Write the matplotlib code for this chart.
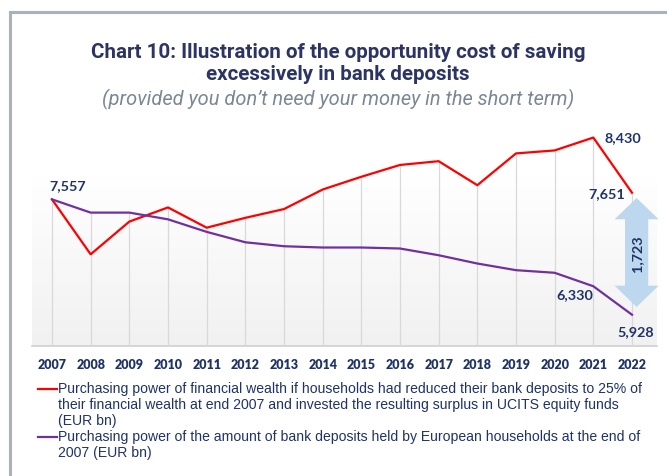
import numpy as np
import matplotlib
matplotlib.use("Agg")
from matplotlib import pyplot as plt
from matplotlib.patches import Polygon
from matplotlib.lines import Line2D

years = list(range(2007, 2023))
equity_path = [7557, 6781, 7243, 7443, 7157, 7296, 7420, 7696, 7876, 8043,
               8096, 7757, 8206, 8248, 8430, 7651]
deposits = [7557, 7370, 7370, 7275, 7098, 6951, 6895, 6877, 6877, 6863,
            6768, 6651, 6557, 6520, 6330, 5928]
year_labels = [str(y) for y in years]
red_label = ("Purchasing power of financial wealth if households had reduced their bank deposits to 25% of\n"
             "their financial wealth at end 2007 and invested the resulting surplus in UCITS equity funds\n"
             "(EUR bn)")
purple_label = ("Purchasing power of the amount of bank deposits held by European households at the end of\n"
                "2007 (EUR bn)")

W, H = 667, 477
navy = "#1f3366"
fig = plt.figure(figsize=(W / 100, H / 100), dpi=100)

def fx(px):
    return px / W

def fy(py):
    return 1 - py / H

# frame border
fig.add_artist(Line2D([fx(10), fx(10)], [fy(13), 0], color="#aab1bc", lw=2.2))
fig.add_artist(Line2D([fx(10), 1], [fy(13), fy(13)], color="#aab1bc", lw=2.2))

fig.text(fx(338), fy(52), "Chart 10: Illustration of the opportunity cost of saving",
         ha="center", va="center", fontsize=14.8, fontweight="bold", color="#2b3463", family="Roboto")
fig.text(fx(338), fy(74), "excessively in bank deposits",
         ha="center", va="center", fontsize=14.8, fontweight="bold", color="#2b3463", family="Roboto")
fig.text(fx(338), fy(99), "(provided you don\u2019t need your money in the short term)",
         ha="center", va="center", fontsize=14.4, style="italic", color="#7b8794", family="Roboto")

ax = fig.add_axes([fx(32), fy(347), fx(657 - 32), (347 - 120) / H])
ax.set_xlim(2006.483, 2022.647)
ax.set_ylim(5486, 8692)
ax.axis("off")

# gradient background
grad = np.linspace(1, 0, 100).reshape(-1, 1)
ax.imshow(grad, cmap=matplotlib.colors.LinearSegmentedColormap.from_list("g", ["#f1f1f1", "#ffffff"]),
          extent=[2006.483, 2022.647, 5486, 7887], aspect="auto", zorder=0, vmin=0, vmax=1)
ax.plot([2006.483, 2022.647], [5486, 5486], color="#d0d0d0", lw=1.2, zorder=1, clip_on=False)

# drop lines
tops = np.maximum(equity_path, deposits)
ax.vlines(years, 5486, tops, color="#d9d9d9", lw=0.9, zorder=1)

ax.plot(years, equity_path, color="#ff0000", lw=1.6, zorder=3, clip_on=False)
ax.plot(years, deposits, color="#7030a0", lw=1.6, zorder=3, clip_on=False)

lab = dict(fontsize=10.4, fontweight="bold", color=navy, family="Lato", textcoords="offset points")
ax.annotate(f"{equity_path[0]:,}", (years[0], equity_path[0]), xytext=(11.5, 10.5), ha="center", va="center", **lab)
ax.annotate(f"{equity_path[-2]:,}", (years[-2], equity_path[-2]), xytext=(8, 0.5), ha="left", va="center", **lab)
ax.annotate(f"{equity_path[-1]:,}", (years[-1], equity_path[-1]), xytext=(-5, 0), ha="right", va="center", **lab)
ax.annotate(f"{deposits[-2]:,}", (years[-2], deposits[-2]), xytext=(0, -6), ha="right", va="center", **lab)
ax.annotate(f"{deposits[-1]:,}", (years[-1], deposits[-1]), xytext=(3, -11.5), ha="center", va="center", **lab)

# double arrow showing the gap
x0 = years[-1] + 0.12
top = equity_path[-1] - 75
bot = deposits[-1] + 110
hw, sw, hl = 0.57, 0.30, 300
arrow = Polygon([(x0, top), (x0 + hw, top - hl), (x0 + sw, top - hl), (x0 + sw, bot + hl),
                 (x0 + hw, bot + hl), (x0, bot), (x0 - hw, bot + hl), (x0 - sw, bot + hl),
                 (x0 - sw, top - hl), (x0 - hw, top - hl)],
                closed=True, facecolor="#bdd7ee", edgecolor="none", zorder=2, clip_on=False)
ax.add_patch(arrow)
ax.text(x0, (top + bot) / 2, f"{equity_path[-1] - deposits[-1]:,}", rotation=90, ha="center", va="center",
        fontsize=10.4, fontweight="bold", color=navy, family="Lato", zorder=4)

# year labels
for y, t in zip(years, year_labels):
    px = 32 + (y - 2006.483) / (2022.647 - 2006.483) * (657 - 32)
    fig.text(fx(px), fy(365), t, ha="center", va="center", fontsize=9.0, fontweight="heavy",
             color=navy, family="Lato")

# legend
fig.add_artist(Line2D([fx(38), fx(57)], [fy(390), fy(390)], color="#ff0000", lw=1.6))
fig.add_artist(Line2D([fx(38), fx(57)], [fy(438), fy(438)], color="#7030a0", lw=1.6))
fig.text(fx(58), fy(382), red_label, ha="left", va="top", fontsize=10.1, color=navy,
         family="Liberation Sans", linespacing=1.19)
fig.text(fx(58), fy(430), purple_label, ha="left", va="top", fontsize=10.1, color=navy,
         family="Liberation Sans", linespacing=1.19)

fig.savefig("out.png", dpi=100)
